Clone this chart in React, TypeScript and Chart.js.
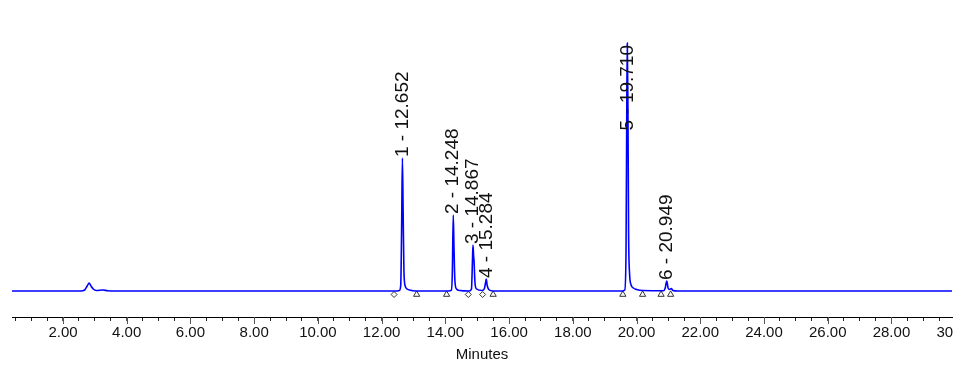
import React, { useEffect, useRef } from 'react';
import { Chart, registerables } from 'chart.js';

Chart.register(...registerables);

// Chromatogram trace (minutes, signal)
const TIMES = [
  0.4, 2.55, 2.68, 2.76, 2.82, 2.88, 2.95, 3.05, 3.25, 3.4, 3.6,
  12.45, 12.56, 12.6, 12.63, 12.652, 12.675, 12.7, 12.74, 12.8, 12.9, 13.05,
  14.1, 14.19, 14.22, 14.248, 14.27, 14.3, 14.35, 14.45,
  14.75, 14.82, 14.85, 14.867, 14.885, 14.9, 14.93, 14.98,
  15.15, 15.22, 15.26, 15.284, 15.31, 15.36, 15.5,
  19.55, 19.63, 19.67, 19.695, 19.71, 19.73, 19.75, 19.78, 19.83, 19.9, 20.0, 20.2,
  20.85, 20.9, 20.949, 20.99, 21.04, 21.09, 21.14, 21.3,
  29.9,
];
const SIGNAL = [
  0, 0, 1, 5, 8, 5, 2, 0.5, 1, 0.3, 0,
  0, 0.5, 6, 70, 133, 80, 20, 5, 2, 0.8, 0,
  0, 0.8, 20, 76, 45, 10, 2, 0.5,
  0, 2, 30, 46, 36, 30, 8, 2,
  0.5, 2, 8, 12, 6, 1.5, 0,
  0, 1, 40, 190, 248, 180, 60, 18, 6, 3, 1.5, 0.5,
  0.3, 3, 10, 3, 1.5, 2.5, 0.5, 0,
  0,
];

// Peak annotations
const PEAK_NUMBERS = [1, 2, 3, 4, 5, 6];
const PEAK_TIMES = [12.652, 14.248, 14.867, 15.284, 19.71, 20.949];

// Integration marks below the baseline
const MARK_TIMES = [12.39, 13.1, 14.04, 14.72, 15.17, 15.5, 19.57, 20.19, 20.77, 21.07];
const MARK_KINDS = ['diamond', 'triangle', 'triangle', 'diamond', 'diamond', 'triangle', 'triangle', 'triangle', 'triangle', 'triangle'];
const MARK_LEVEL = -3.5;

// Axis
const TICK_VALUES = [2, 4, 6, 8, 10, 12, 14, 16, 18, 20, 22, 24, 26, 28, 30];
const TICK_LABELS = ['2.00', '4.00', '6.00', '8.00', '10.00', '12.00', '14.00', '16.00', '18.00', '20.00', '22.00', '24.00', '26.00', '28.00', '30.00'];
const X_TITLE = 'Minutes';
const X_MIN = 0.4;
const X_MAX = 29.9;
const Y_MIN = -26;
const Y_MAX = 251;

const FONT = '"Liberation Sans", Arial, sans-serif';

export default function App() {
  const ref = useRef<HTMLCanvasElement | null>(null);

  useEffect(() => {
    document.body.style.margin = '0';
    const canvas = ref.current;
    if (!canvas) return;

    const minorTicks: number[] = [];
    for (let v = 0.5; v <= 30.0001; v += 0.5) minorTicks.push(Math.round(v * 10) / 10);

    const isMajor = (v: number) => TICK_VALUES.some((t) => Math.abs(t - v) < 1e-6);

    const peakLabels = {
      id: 'peakLabels',
      afterDatasetsDraw(chart: any) {
        const { ctx, scales, chartArea } = chart;
        ctx.save();
        ctx.font = `19px ${FONT}`;
        ctx.fillStyle = '#111';
        ctx.textAlign = 'left';
        ctx.textBaseline = 'middle';
        PEAK_TIMES.forEach((t, i) => {
          const idx = TIMES.indexOf(t);
          const h = SIGNAL[idx];
          const text = `${PEAK_NUMBERS[i]} - ${t.toFixed(3)}`;
          const len = ctx.measureText(text).width;
          const x = scales.x.getPixelForValue(t);
          let y = scales.y.getPixelForValue(h) - 1;
          if (y - len < chartArea.top + 5) y = chartArea.top + 5 + len;
          ctx.save();
          ctx.translate(x, y);
          ctx.rotate(-Math.PI / 2);
          ctx.fillText(text, 0, 0);
          ctx.restore();
        });
        ctx.restore();
      },
    };

    const majorTicks = {
      id: 'majorTicks',
      afterDraw(chart: any) {
        const { ctx, scales, chartArea } = chart;
        ctx.save();
        ctx.strokeStyle = '#555';
        ctx.lineWidth = 1;
        TICK_VALUES.forEach((v) => {
          const x = Math.round(scales.x.getPixelForValue(v)) + 0.5;
          ctx.beginPath();
          ctx.moveTo(x, chartArea.bottom);
          ctx.lineTo(x, chartArea.bottom + 7);
          ctx.stroke();
        });
        ctx.restore();
      },
    };

    const clipRight = {
      id: 'clipRight',
      beforeDraw(chart: any) {
        const { ctx, chartArea } = chart;
        ctx.save();
        ctx.beginPath();
        ctx.rect(0, 0, chartArea.right + 1, chart.height);
        ctx.clip();
      },
      afterDraw(chart: any) {
        chart.ctx.restore();
      },
    };

    const chart = new Chart(canvas, {
      type: 'line',
      data: {
        datasets: [
          {
            type: 'line',
            data: TIMES.map((t, i) => ({ x: t, y: SIGNAL[i] })),
            borderColor: '#0000ff',
            borderWidth: 1.6,
            pointRadius: 0,
            cubicInterpolationMode: 'monotone',
            fill: false,
          } as any,
          {
            type: 'scatter',
            data: MARK_TIMES.map((t) => ({ x: t, y: MARK_LEVEL })),
            pointStyle: MARK_KINDS.map((k) => (k === 'diamond' ? 'rectRot' : 'triangle')),
            pointRadius: MARK_KINDS.map((k) => (k === 'diamond' ? 3 : 3.6)),
            borderColor: '#333',
            backgroundColor: '#fff',
            borderWidth: 1,
          } as any,
        ],
      },
      options: {
        animation: false,
        responsive: false,
        events: [],
        layout: { padding: { left: 12, right: 21, top: 40, bottom: 18 } },
        plugins: {
          legend: { display: false },
          tooltip: { enabled: false },
          title: { display: false },
        },
        scales: {
          x: {
            type: 'linear',
            min: X_MIN,
            max: X_MAX,
            afterBuildTicks: (scale: any) => {
              scale.ticks = minorTicks.map((v) => ({ value: v }));
            },
            afterFit: (scale: any) => {
              scale.height = 50;
              scale.paddingLeft = 0;
              scale.paddingRight = 0;
            },
            ticks: {
              autoSkip: false,
              maxRotation: 0,
              minRotation: 0,
              padding: 3,
              color: '#111',
              font: { family: FONT, size: 15 },
              callback: (value: any) => {
                const i = TICK_VALUES.findIndex((t) => Math.abs(t - Number(value)) < 1e-6);
                return i >= 0 ? TICK_LABELS[i] : '';
              },
            },
            grid: {
              drawOnChartArea: false,
              drawTicks: true,
              tickLength: 4,
              tickColor: (ctx: any) => (ctx.tick && isMajor(ctx.tick.value) ? '#555' : '#222'),
              tickWidth: 1,
            },
            border: { display: true, color: '#000', width: 1 },
            title: {
              display: true,
              text: X_TITLE,
              color: '#111',
              font: { family: FONT, size: 15 },
              padding: { top: 0, bottom: 3 },
            },
          },
          y: {
            type: 'linear',
            display: false,
            min: Y_MIN,
            max: Y_MAX,
          },
        },
      } as any,
      plugins: [peakLabels, majorTicks, clipRight],
    });

    return () => chart.destroy();
  }, []);

  return (
    <div style={{ width: 973, height: 385 }}>
      <canvas ref={ref} width={973} height={385} style={{ display: 'block' }} />
    </div>
  );
}
